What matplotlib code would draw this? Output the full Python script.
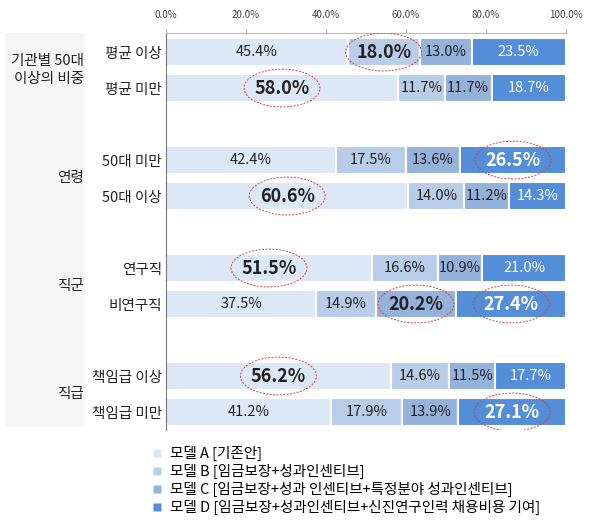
import matplotlib.pyplot as plt
from matplotlib.patches import Ellipse, Rectangle
from matplotlib.lines import Line2D
import numpy as np

plt.rcParams['font.family'] = ['Noto Sans CJK KR', 'DejaVu Sans']

# rows from top to bottom
row_labels = ['평균 이상', '평균 미만', '50대 미만', '50대 이상',
              '연구직', '비연구직', '책임급 이상', '책임급 미만']
row_pos = [0, 1, 3, 4, 6, 7, 9, 10]
group_labels = ['기관별 50대\n이상의 비중', '연령', '직군', '직급']

model_a = [45.4, 58.0, 42.4, 60.6, 51.5, 37.5, 56.2, 41.2]
model_b = [18.0, 11.7, 17.5, 14.0, 16.6, 14.9, 14.6, 17.9]
model_c = [13.0, 11.7, 13.6, 11.2, 10.9, 20.2, 11.5, 13.9]
model_d = [23.5, 18.7, 26.5, 14.3, 21.0, 27.4, 17.7, 27.1]

legend_labels = ['모델 A [기존안]',
                 '모델 B [임금보장+성과인센티브]',
                 '모델 C [임금보장+성과 인센티브+특정분야 성과인센티브]',
                 '모델 D [임금보장+성과인센티브+신진연구인력 채용비용 기여]']

# (row index, model index) pairs that are circled in the original
highlight = [(0, 1), (1, 0), (2, 3), (3, 0), (4, 0), (5, 2), (5, 3), (6, 0), (7, 3)]

colors = ['#dde8f6', '#b9cde8', '#94b2da', '#558ed8']
text_colors = ['#222222', '#222222', '#222222', 'white']

fig = plt.figure(figsize=(6.04, 5.30), dpi=100)

# light gray panel behind the group labels
fig.patches.append(Rectangle((5 / 604, 1 - 427 / 530), 80 / 604, 394 / 530,
                             transform=fig.transFigure, facecolor='#f6f6f6',
                             edgecolor='none', zorder=-1))

ax = fig.add_axes([166 / 604, 1 - 430 / 530, 400 / 604, 397 / 530])
ax.set_facecolor('none')
ax.set_zorder(2)

series = [model_a, model_b, model_c, model_d]
left = np.zeros(len(row_pos))
for k, vals in enumerate(series):
    vals = np.array(vals)
    ax.barh(row_pos, vals, left=left, height=0.8, color=colors[k],
            edgecolor='white', linewidth=1.5, label=legend_labels[k])
    for i, v in enumerate(vals):
        cx = left[i] + v / 2
        big = (i, k) in highlight
        ax.text(cx, row_pos[i], f'{v:.1f}%', ha='center', va='center',
                fontsize=13 if big else 10.5,
                fontweight='bold' if big else 'normal',
                color=text_colors[k])
        if big:
            ax.add_patch(Ellipse((cx, row_pos[i]), 19, 1.05, fill=False,
                                 edgecolor='#d04050', linestyle=(0, (2, 1.5)),
                                 linewidth=0.7, zorder=5))
    left += vals

ax.set_xlim(0, 100)
ax.set_ylim(10.5, -0.53)
ax.xaxis.tick_top()
ax.set_xticks([0, 20, 40, 60, 80, 100])
ax.set_xticklabels(['0.0%', '20.0%', '40.0%', '60.0%', '80.0%', '100.0%'],
                   fontsize=7, color='#444444')
ax.tick_params(axis='x', direction='out', length=3, color='#aaaaaa', pad=6)
ax.set_yticks(row_pos)
ax.set_yticklabels(row_labels, fontsize=10.5, color='#222222')
ax.tick_params(axis='y', length=0, pad=3)
for s in ['right', 'bottom']:
    ax.spines[s].set_visible(False)
ax.spines['top'].set_color('#bbbbbb')
ax.spines['left'].set_color('#777777')

# group labels in the left column
group_centers = [0.5, 3.5, 6.5, 9.5]
for lab, yc in zip(group_labels, group_centers):
    ax.text(-0.205, yc, lab, transform=ax.get_yaxis_transform(),
            ha='right', va='center', fontsize=10.5, color='#222222',
            linespacing=1.3, zorder=10)

handles = [Line2D([], [], marker='s', linestyle='none', markersize=6,
                  markerfacecolor=c, markeredgecolor='none') for c in colors]
fig.legend(handles, legend_labels, loc='upper left',
           bbox_to_anchor=(145 / 604, 1 - 440 / 530), frameon=False,
           fontsize=10.5, handlelength=0.8, handletextpad=0.5,
           labelspacing=0.2, borderaxespad=0)

fig.savefig('out.png', dpi=100)
